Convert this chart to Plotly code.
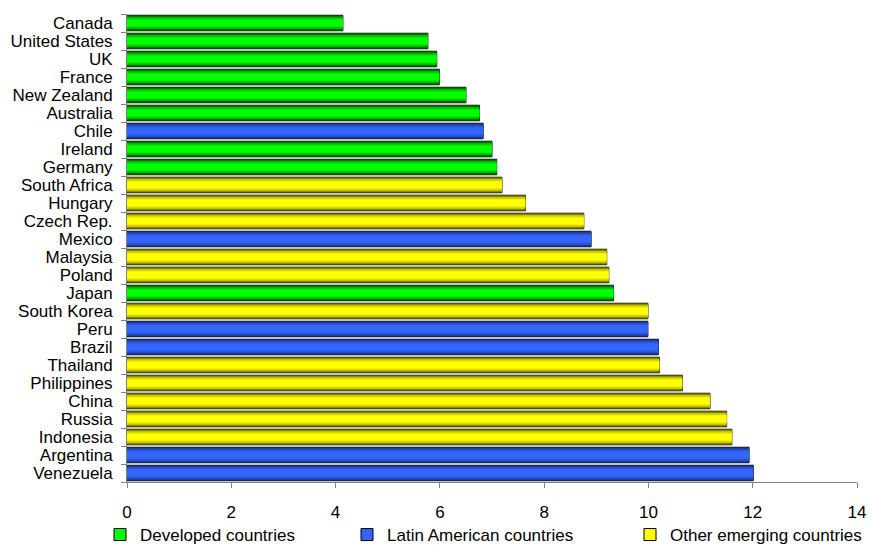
import plotly.graph_objects as go

countries = ["Canada", "United States", "UK", "France", "New Zealand", "Australia", "Chile",
             "Ireland", "Germany", "South Africa", "Hungary", "Czech Rep.", "Mexico", "Malaysia",
             "Poland", "Japan", "South Korea", "Peru", "Brazil", "Thailand", "Philippines",
             "China", "Russia", "Indonesia", "Argentina", "Venezuela"]
values = [4.14, 5.77, 5.94, 5.99, 6.50, 6.76, 6.83, 7.00, 7.09, 7.19, 7.64, 8.76, 8.90, 9.20,
          9.24, 9.33, 9.99, 9.99, 10.19, 10.21, 10.65, 11.18, 11.50, 11.60, 11.93, 12.01]
groups = ["D", "D", "D", "D", "D", "D", "L", "D", "D", "O", "O", "O", "L", "O",
          "O", "D", "O", "L", "L", "O", "O", "O", "O", "O", "L", "L"]

group_names = {"D": "Developed countries", "L": "Latin American countries", "O": "Other emerging countries"}
# shading layers for a cylinder-like look: (edge, mid, centre)
group_shades = {
    "D": ("#007A00", "#00C800", "#00FF00"),
    "L": ("#1C3A99", "#2A55D8", "#3366FF"),
    "O": ("#8A8A00", "#D4D400", "#FFFF00"),
}
x_ticks = [0, 2, 4, 6, 8, 10, 12, 14]

W, H = 873, 546
L, R, T, B = 127, 16, 14, 64
PW, PH = W - L - R, H - T - B
font = "Liberation Sans, Arial, sans-serif"

fig = go.Figure()
legend_ids = {"D": "legend", "L": "legend2", "O": "legend3"}
for g in ["D", "L", "O"]:
    ys = [c for c, gg in zip(countries, groups) if gg == g]
    xs = [v for v, gg in zip(values, groups) if gg == g]
    edge, mid, centre = group_shades[g]
    fig.add_trace(go.Bar(
        x=xs, y=ys, orientation="h", name=group_names[g],
        marker=dict(color=centre, line=dict(color="#000000", width=1)),
        width=0.86, legend=legend_ids[g], hoverinfo="skip",
    ))
    for col, wd in [(edge, 0.80), (mid, 0.64), (centre, 0.42)]:
        fig.add_trace(go.Bar(
            x=xs, y=ys, orientation="h", showlegend=False, hoverinfo="skip",
            marker=dict(color=col, line=dict(width=0)), width=wd,
        ))

leg_common = dict(orientation="h", yanchor="middle",
                  y=(T + PH - 535) / PH, font=dict(family=font, size=17, color="#000000"),
                  bgcolor="rgba(0,0,0,0)", borderwidth=0, visible=True)

def lx(px):
    return (px - L) / PW

fig.update_layout(
    width=W, height=H,
    margin=dict(l=L, r=R, t=T, b=B, autoexpand=False),
    paper_bgcolor="white", plot_bgcolor="white",
    barmode="overlay", showlegend=True,
    font=dict(family=font, size=17, color="#000000"),
    legend=dict(x=lx(100), **leg_common),
    legend2=dict(x=lx(347), **leg_common),
    legend3=dict(x=lx(630), **leg_common),
    xaxis=dict(range=[0, 14], tickvals=x_ticks, ticks="outside", ticklen=5,
               tickcolor="#808080", showline=True, linecolor="#808080", linewidth=1,
               showgrid=False, zeroline=False, ticklabelstandoff=10, automargin=False,
               tickfont=dict(family=font, size=17, color="#000000")),
    yaxis=dict(categoryorder="array", categoryarray=countries, range=[25.5, -0.5],
               tickmode="array", tickvals=countries, ticktext=countries,
               ticks="outside", ticklen=5, tickcolor="#808080", tickson="boundaries",
               showline=True, linecolor="#808080", linewidth=1, showgrid=False,
               ticklabelstandoff=10, automargin=False,
               tickfont=dict(family=font, size=17, color="#000000")),
)

fig.write_html("out.html", config={"displayModeBar": False},
               post_script="document.body.style.margin='0';")
